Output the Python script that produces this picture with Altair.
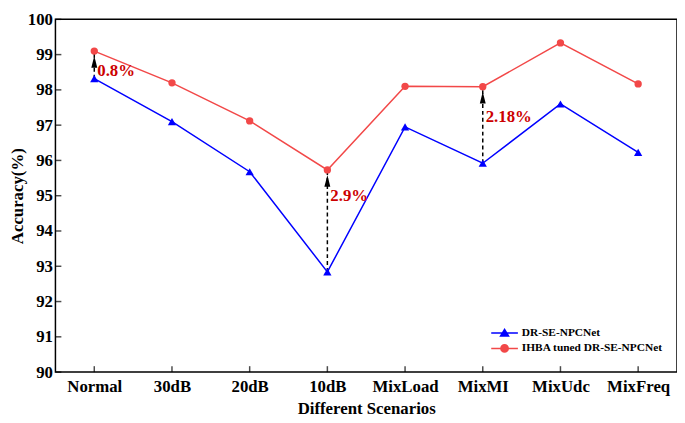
import altair as alt
import pandas as pd

categories = ["Normal", "30dB", "20dB", "10dB", "MixLoad", "MixMI", "MixUdc", "MixFreq"]
blue_acc = [98.32, 97.10, 95.68, 92.84, 96.95, 95.92, 97.60, 96.23]
red_acc = [99.10, 98.20, 97.12, 95.73, 98.10, 98.09, 99.33, 98.17]
series_names = ["DR-SE-NPCNet", "IHBA tuned DR-SE-NPCNet"]
series_colors = ["#0000ff", "#f24848"]

arrow_cats = ["Normal", "10dB", "MixMI"]
arrow_low = [98.32, 92.84, 95.92]
arrow_high = [99.10, 95.73, 98.09]
arrow_labels = ["0.8%", "2.9%", "2.18%"]
label_y = [98.52, 95.00, 97.23]
y_ticks = [90, 91, 92, 93, 94, 95, 96, 97, 98, 99, 100]

W, H = 629, 357
FONT = "Liberation Serif"

long = pd.DataFrame({
    "cat": categories * 2,
    "acc": blue_acc + red_acc,
    "series": [s for s in series_names for _ in categories],
})
arrows = pd.DataFrame({"cat": arrow_cats, "low": arrow_low, "high": arrow_high,
                       "lab": arrow_labels, "ly": label_y})
yt = pd.DataFrame({"v": y_ticks})
xt = pd.DataFrame({"cat": categories})

xscale = alt.Scale(type="point", domain=categories, padding=0.5)
xaxis = alt.Axis(title="Different Scenarios", ticks=False, domain=False, grid=False,
                 labelAngle=0, labelPadding=7, titlePadding=6)
yscale = alt.Scale(domain=[90, 100], nice=False, zero=False)
yaxis = alt.Axis(title="Accuracy(%)", values=y_ticks, ticks=False, domain=False, grid=False,
                 labelPadding=3, titlePadding=1)


def X():
    return alt.X("cat:N", scale=xscale, axis=xaxis)


def Y(field):
    return alt.Y(field, scale=yscale, axis=yaxis)


blue_line = alt.Chart(long).transform_filter(alt.datum.series == series_names[0]).mark_line(
    color=series_colors[0], strokeWidth=1.5).encode(x=X(), y=Y("acc:Q"))
red_line = alt.Chart(long).transform_filter(alt.datum.series == series_names[1]).mark_line(
    color=series_colors[1], strokeWidth=1.5).encode(x=X(), y=Y("acc:Q"))

rules = alt.Chart(arrows).mark_rule(color="black", strokeWidth=1.5, strokeDash=[4, 3]).encode(
    x=X(), y=Y("low:Q"), y2="high:Q")
heads = alt.Chart(arrows).mark_point(shape="M0,-1L0.5,1L-0.5,1Z", filled=True, size=144,
                                     color="black", opacity=1, yOffset=11).encode(x=X(), y=Y("high:Q"))

blue_pts = alt.Chart(long).transform_filter(alt.datum.series == series_names[0]).mark_point(
    shape="triangle-up", filled=True, size=70, opacity=1, color=series_colors[0]).encode(x=X(), y=Y("acc:Q"))
red_pts = alt.Chart(long).transform_filter(alt.datum.series == series_names[1]).mark_point(
    shape="circle", filled=True, size=55, opacity=1, color=series_colors[1]).encode(x=X(), y=Y("acc:Q"))

labels = alt.Chart(arrows).mark_text(align="left", baseline="middle", dx=3, font=FONT, fontSize=17,
                                     fontWeight="bold", color="#cc0000").encode(
    x=X(), y=Y("ly:Q"), text="lab:N")

ytick_marks = alt.Chart(yt).mark_tick(orient="horizontal", thickness=1.5, size=6, color="black").encode(
    y=Y("v:Q"), x=alt.value(3))
xtick_marks = alt.Chart(xt).mark_tick(orient="vertical", thickness=1.5, size=6, color="black").encode(
    x=X(), y=alt.value(H - 3))

tri_path = "M-2,0H2M0,-0.55L0.6,0.45L-0.6,0.45Z"
circ_path = "M-2,0H2M0.55,0A0.55,0.55,0,1,1,-0.55,0A0.55,0.55,0,1,1,0.55,0Z"
leg = alt.Legend(title=None, orient="none", legendX=447, legendY=310, symbolSize=182,
                 symbolStrokeWidth=1.5, labelFont=FONT, labelFontSize=11.5, labelFontWeight="bold",
                 labelColor="black", labelOffset=10, rowPadding=1.5, padding=0)
legend_layer = alt.Chart(long).transform_filter("false").mark_point(filled=False, strokeWidth=1.5, opacity=1).encode(
    x=X(), y=Y("acc:Q"),
    color=alt.Color("series:N", scale=alt.Scale(domain=series_names, range=series_colors), legend=leg),
    fill=alt.Fill("series:N", scale=alt.Scale(domain=series_names, range=series_colors), legend=leg),
    shape=alt.Shape("series:N", scale=alt.Scale(domain=series_names, range=[tri_path, circ_path]), legend=leg),
)

chart = alt.layer(
    ytick_marks, xtick_marks, blue_line, red_line, rules, heads, blue_pts, red_pts, labels, legend_layer
).properties(
    width=W, height=H, padding={"left": 0, "top": 0, "right": 0, "bottom": 0}
).configure_view(
    stroke="black", strokeWidth=1.5
).configure_axis(
    labelFont=FONT, labelFontSize=17, labelFontWeight="bold", labelColor="black",
    titleFont=FONT, titleFontSize=17, titleFontWeight="bold", titleColor="black"
)

chart.save("out.html", embed_options={"renderer": "svg", "actions": False})
